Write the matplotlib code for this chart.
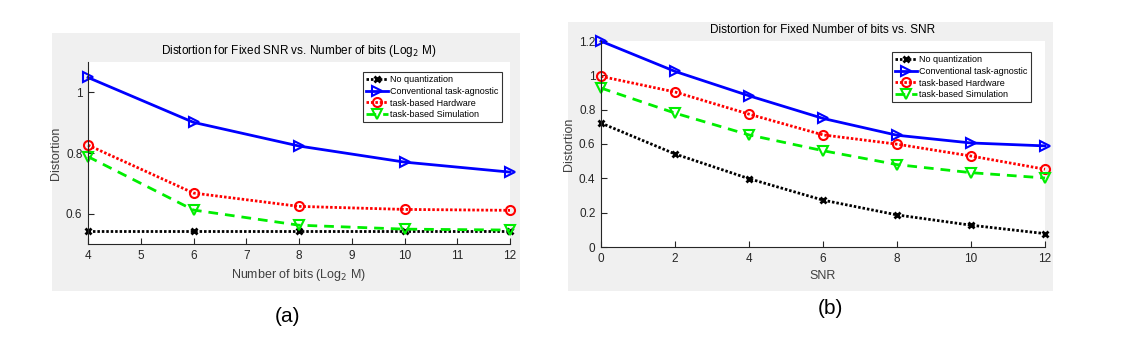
"""Distortion curves: (a) vs number of bits, (b) vs SNR"""

import numpy as np
import matplotlib
matplotlib.use("Agg")
import matplotlib.pyplot as plt
from matplotlib.patches import Rectangle

plt.rcParams['font.family'] = ['Liberation Sans Narrow', 'Liberation Sans', 'DejaVu Sans']

# (a) fixed SNR, varying number of bits
bits = [4, 6, 8, 10, 12]
a_noquant = [0.543, 0.543, 0.543, 0.543, 0.543]
a_agnostic = [1.049, 0.901, 0.823, 0.770, 0.737]
a_hardware = [0.826, 0.668, 0.624, 0.614, 0.611]
a_simulation = [0.788, 0.612, 0.562, 0.549, 0.546]

# (b) fixed number of bits, varying SNR
snr = [0, 2, 4, 6, 8, 10, 12]
b_noquant = [0.722, 0.542, 0.398, 0.273, 0.187, 0.127, 0.078]
b_agnostic = [1.199, 1.023, 0.881, 0.749, 0.651, 0.606, 0.589]
b_hardware = [0.994, 0.903, 0.774, 0.653, 0.599, 0.530, 0.453]
b_simulation = [0.926, 0.780, 0.653, 0.561, 0.480, 0.433, 0.402]

labels = ['No quantization', 'Conventional task-agnostic',
          'task-based Hardware', 'task-based Simulation']

W, H = 1128, 364
fig = plt.figure(figsize=(W / 100, H / 100), dpi=100)
GREY = '#f0f0f0'
DOTS = (0, (0.9, 0.7))  # matlab ':' is a dense dotted line


def px_rect(x0, y0, x1, y1):
    """pixel box (top-left origin) -> figure fraction [l, b, w, h]"""
    return [x0 / W, 1 - y1 / H, (x1 - x0) / W, (y1 - y0) / H]


for box in [(52, 33, 520, 291), (568, 22, 1053, 291)]:
    l, b, w, h = px_rect(*box)
    fig.patches.append(Rectangle((l, b), w, h, transform=fig.transFigure,
                                 facecolor=GREY, edgecolor='none', zorder=-10))


def draw(ax, x, series, title, xlabel, leg_anchor):
    styles = [
        dict(color='black', ls=DOTS, marker='x', mew=2, ms=4),
        dict(color='#0000ff', ls='-', marker='>', mfc='none', mew=1.5, ms=7),
        dict(color='#ff0000', ls=DOTS, marker='o', mfc='none', mew=1.5, ms=6.5),
        dict(color='#00ee00', ls=(0, (3.5, 2.5)), marker='v', mfc='none', mew=1.5, ms=7),
    ]
    for y, st, lab in zip(series, styles, labels):
        ax.plot(x, y, lw=2, label=lab, clip_on=False, **st)
    for s in ['top', 'right']:
        ax.spines[s].set_visible(False)
    for s in ['left', 'bottom']:
        ax.spines[s].set_color('#262626')
    ax.tick_params(direction='in', labelsize=8.5, colors='#262626', length=4,
                   pad=4)
    ax.set_title(title, fontsize=8.5, pad=6)
    ax.set_xlabel(xlabel, fontsize=9, color='#404040', labelpad=4)
    ax.set_ylabel('Distortion', fontsize=9, color='#404040', labelpad=3)
    leg = ax.legend(fontsize=6.5, frameon=True, fancybox=False,
                    edgecolor='black', handlelength=2.4, borderpad=0.35,
                    labelspacing=0.3, handletextpad=0.3, borderaxespad=0,
                    loc='upper right', bbox_to_anchor=leg_anchor,
                    bbox_transform=fig.transFigure)
    leg.get_frame().set_linewidth(0.8)


ax1 = fig.add_axes(px_rect(88, 62, 510, 244))
draw(ax1, bits, [a_noquant, a_agnostic, a_hardware, a_simulation],
     'Distortion for Fixed SNR vs. Number of bits (Log$_2$ M)',
     'Number of bits (Log$_2$ M)', (502 / W, 1 - 72 / H))
ax1.set_xlim(4, 12)
ax1.set_ylim(0.5, 1.1)
ax1.set_xticks(np.arange(4, 13, 1))
ax1.set_yticks([0.6, 0.8, 1.0])
ax1.set_yticklabels(['0.6', '0.8', '1'])

ax2 = fig.add_axes(px_rect(601, 41, 1045, 247))
draw(ax2, snr, [b_noquant, b_agnostic, b_hardware, b_simulation],
     'Distortion for Fixed Number of bits vs. SNR', 'SNR',
     (1031 / W, 1 - 52 / H))
ax2.set_xlim(0, 12)
ax2.set_ylim(0, 1.2)
ax2.set_xticks(np.arange(0, 13, 2))
ax2.set_yticks([0, 0.2, 0.4, 0.6, 0.8, 1.0, 1.2])
ax2.set_yticklabels(['0', '0.2', '0.4', '0.6', '0.8', '1', '1.2'])

fig.text(287 / W, 1 - 317 / H, '(a)', ha='center', va='center', fontsize=15,
         family=['Liberation Sans', 'DejaVu Sans'])
fig.text(830 / W, 1 - 309 / H, '(b)', ha='center', va='center', fontsize=15,
         family=['Liberation Sans', 'DejaVu Sans'])

fig.savefig('out.png', dpi=100, facecolor='white')
